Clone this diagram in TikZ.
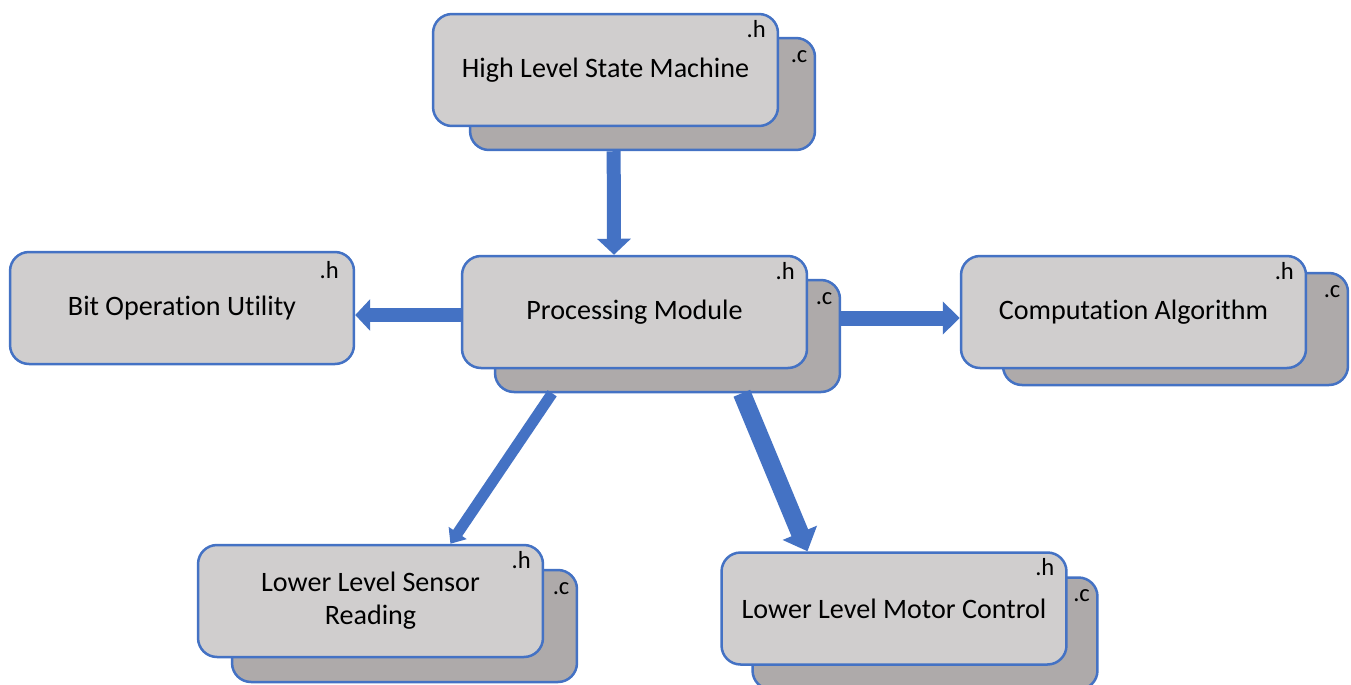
\documentclass[tikz,border=0pt]{standalone}
\usepackage{fontspec}
\setmainfont{Carlito}[Ligatures={NoCommon}]
\usetikzlibrary{arrows.meta,calc}
\definecolor{edgeblue}{HTML}{4472C4}
\definecolor{frontgray}{HTML}{D0CECE}
\definecolor{backgray}{HTML}{AEAAAA}
\tikzset{
  frontbox/.style={draw=edgeblue, line width=0.05cm, fill=frontgray, rounded corners=0.38cm,
    minimum width=6.9cm, minimum height=2.24cm, inner sep=0pt, align=center,
    font=\fontsize{16}{18.7}\selectfont},
  backbox/.style={draw=edgeblue, line width=0.05cm, fill=backgray, rounded corners=0.38cm,
    minimum width=6.9cm, minimum height=2.24cm, inner sep=0pt},
  ext/.style={inner sep=0pt, anchor=north east, font=\fontsize{14}{16}\selectfont},
  flow/.style={draw=edgeblue, line width=#1},
}
% one source module: .h card in front, .c card behind
\newcommand\modbox[6]{%
  \node[backbox] (#1b) at ($(#2,#3)+(#4,#5)$) {};
  \node[frontbox] (#1) at (#2,#3) {#6};
  \node[ext] (#1h) at ([xshift=-0.26cm,yshift=-0.14cm]#1.north east) {.h};
  \node[ext] (#1c) at ([xshift=-0.17cm,yshift=-0.26cm]#1b.north east) {.c};
}
\begin{document}
\begin{tikzpicture}[x=0.02cm, y=-0.02cm]
  \fill[white] (0,0) rectangle (1351,684);
  \useasboundingbox (0,0) rectangle (1351,684);

  \modbox{hsm}{605.5}{70}{37}{24}{High Level State Machine}
  \modbox{proc}{634.5}{312}{33}{24}{Processing Module}
  \modbox{comp}{1133.5}{312}{42}{17}{Computation Algorithm}
  \modbox{sens}{370.5}{601}{34}{25}{Lower Level Sensor\\Reading}
  \modbox{motor}{894}{608.5}{31}{25}{Lower Level Motor Control}

  % header-only utility
  \node[frontbox, minimum width=6.88cm] (bit) at (182,308) {Bit Operation Utility};
  \node[ext] (bith) at ([xshift=-0.32cm,yshift=-0.2cm]bit.north east) {.h};

  % dependencies
  \draw[flow=0.28cm, -{Triangle[width=0.66cm,length=0.32cm]}]
    ($(hsmb.south west)!0.417!(hsmb.south east)$) -- ($(proc.north west)!0.441!(proc.north east)$);
  \draw[flow=0.27cm, -{Triangle[width=0.62cm,length=0.3cm]}]
    ([yshift=-0.06cm]proc.west) -- ([yshift=-0.06cm]proc.west -| bit.east);
  \draw[flow=0.3cm, -{Triangle[width=0.64cm,length=0.34cm]}]
    ([yshift=-0.12cm]comp.west -| procb.east) -- ([yshift=-0.12cm]comp.west);
  \draw[flow=0.22cm, -{Triangle[width=0.42cm,length=0.26cm]}]
    ($(procb.south west)!0.168!(procb.south east)$) -- ($(sens.north west)!0.73!(sens.north east)$);
  \draw[flow=0.36cm, -{Triangle[width=0.72cm,length=0.4cm]}]
    ($(procb.south west)!0.714!(procb.south east)$) -- ($(motor.north west)!0.251!(motor.north east)$);
\end{tikzpicture}
\end{document}
